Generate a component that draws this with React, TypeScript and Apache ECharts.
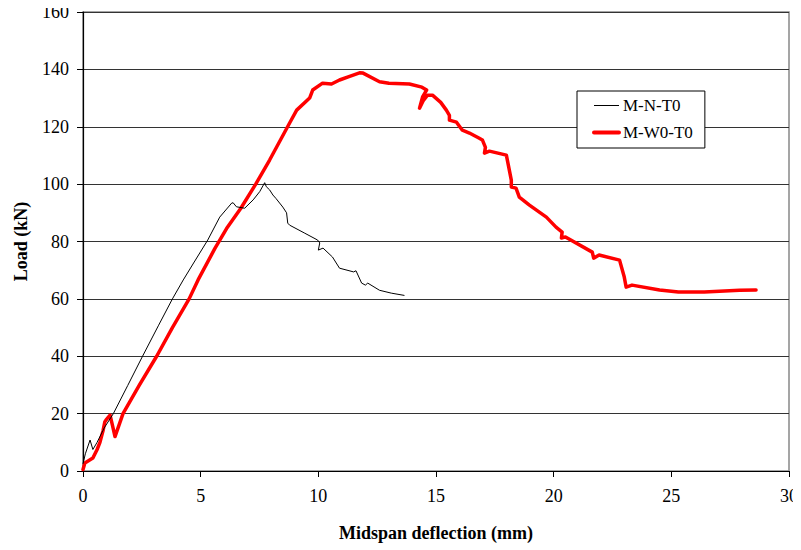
import React, { useEffect, useRef } from "react";
import * as echarts from "echarts";

// Load–deflection readings, [midspan deflection (mm), load (kN)]
const seriesNames = ["M-N-T0", "M-W0-T0"];

const mnt0: [number, number][] = [
  [0.0, 2.5], [0.1, 6], [0.3, 10.8], [0.42, 7.5], [0.6, 10], [0.9, 15], [1.29, 20],
  [1.9, 29.8], [2.53, 40], [3.2, 50.6], [3.8, 60], [4.26, 66.6], [4.7, 72.5],
  [5.3, 80.5], [5.81, 88.5], [6.32, 93.4], [6.38, 93.5], [6.52, 92.1], [6.87, 91.6],
  [7.23, 94.5], [7.51, 97.4], [7.72, 100.5], [7.79, 99.1], [7.93, 98], [8.07, 96.2], [8.2, 95],
  [8.49, 92], [8.65, 90], [8.7, 86.4], [8.78, 85.7], [9.4, 83], [9.97, 80.5], [10.06, 79.5],
  [10.0, 77], [10.2, 77.7], [10.6, 74.6], [10.9, 70.7], [11.5, 69.4], [11.6, 69.8],
  [11.84, 65.5], [12.0, 64.8], [12.1, 65.5], [12.6, 63], [13.1, 62], [13.66, 61.2],
];

const mw0t0: [number, number][] = [
  [0.0, 0.5], [0.08, 2.8], [0.42, 4.5], [0.6, 7.5], [0.72, 10], [0.85, 14], [0.93, 17.2],
  [1.0, 18], [1.15, 19.5], [1.25, 16], [1.36, 12], [1.7, 20], [2.4, 30], [3.13, 40],
  [3.8, 50], [4.51, 60], [4.89, 66.6], [5.6, 77.5], [6.1, 84.5], [6.7, 91.5], [7.34, 100],
  [7.93, 108.4], [8.78, 121.3], [9.08, 125.8],
  [9.63, 130], [9.76, 132.8], [10.18, 135.2], [10.56, 134.9], [10.9, 136.3], [11.3, 137.5],
  [11.75, 138.8], [11.9, 138.7], [12.6, 135.7], [13.0, 135.2], [13.87, 134.9], [14.4, 133.8],
  [14.6, 132.8], [14.43, 130.4], [14.3, 126.5], [14.45, 129], [14.64, 131], [14.85, 131],
  [15.2, 128.5], [15.44, 125.8], [15.57, 124], [15.57, 122.3], [15.87, 121.6], [16.12, 118.8],
  [16.42, 117.8], [16.84, 116], [16.97, 115.4], [17.1, 112.8], [17.06, 110.8], [17.27, 111.5],
  [17.99, 110.1], [18.2, 101.4], [18.2, 99], [18.4, 98.6], [18.54, 95.5], [18.97, 92.7],
  [19.69, 88.5], [20.1, 85], [20.36, 83.3], [20.33, 81.2], [20.5, 81.6], [21.64, 76.3],
  [21.7, 74.2], [21.93, 75.3], [22.8, 73.5], [23.0, 67.6], [23.08, 64.1], [23.33, 64.8],
  [24.5, 63.1], [25.3, 62.4], [26.4, 62.4], [27.9, 63], [28.6, 63.1],
];

const xTitle = "Midspan deflection (mm)";
const yTitle = "Load (kN)";

const FONT = "Liberation Serif";

export default function App() {
  const ref = useRef<HTMLDivElement>(null);

  useEffect(() => {
    if (!ref.current) return;
    const chart = echarts.init(ref.current, undefined, { renderer: "svg" });
    chart.setOption({
      animation: false,
      backgroundColor: "#ffffff",
      textStyle: { fontFamily: FONT },
      grid: {
        left: 83,
        right: 11,
        top: 12,
        bottom: 79,
        show: true,
        borderColor: "#888888",
        borderWidth: 1.5,
        backgroundColor: "#ffffff",
      },
      legend: {
        orient: "vertical",
        left: 577,
        top: 91,
        padding: [6, 12, 7, 15],
        itemGap: 10,
        itemWidth: 25,
        itemHeight: 14,
        backgroundColor: "#ffffff",
        borderColor: "#000000",
        borderWidth: 1,
        borderRadius: 0,
        itemStyle: { opacity: 0 },
        textStyle: { fontFamily: FONT, fontSize: 17, color: "#000000", padding: [0, 0, 0, -1] },
        data: [
          { name: seriesNames[0], lineStyle: { color: "#000000", width: 1 } },
          { name: seriesNames[1], lineStyle: { color: "#ff0000", width: 4 } },
        ],
      },
      xAxis: {
        type: "value",
        min: 0,
        max: 30,
        interval: 5,
        name: xTitle,
        nameLocation: "middle",
        nameGap: 53,
        nameTextStyle: { fontFamily: FONT, fontSize: 18, fontWeight: "bold", color: "#000000" },
        axisLine: { show: true, onZero: false, lineStyle: { color: "#000000", width: 1.2 } },
        axisTick: { show: true, inside: false, length: 6, lineStyle: { color: "#000000" } },
        axisLabel: { fontFamily: FONT, fontSize: 18, color: "#000000", margin: 16 },
        splitLine: { show: false },
      },
      yAxis: {
        type: "value",
        min: 0,
        max: 160,
        interval: 20,
        name: yTitle,
        nameLocation: "middle",
        nameGap: 53,
        nameRotate: 90,
        nameTextStyle: { fontFamily: FONT, fontSize: 18, fontWeight: "bold", color: "#000000" },
        axisLine: { show: true, lineStyle: { color: "#000000", width: 1.2 } },
        axisTick: { show: true, inside: false, length: 6, lineStyle: { color: "#000000" } },
        axisLabel: { fontFamily: FONT, fontSize: 18, color: "#000000", margin: 14 },
        splitLine: { show: true, lineStyle: { color: "#333333", width: 1 } },
      },
      series: [
        {
          name: seriesNames[0],
          type: "line",
          data: mnt0,
          symbol: "none",
          showSymbol: false,
          lineStyle: { color: "#000000", width: 1 },
          itemStyle: { color: "#000000" },
          z: 3,
        },
        {
          name: seriesNames[1],
          type: "line",
          data: mw0t0,
          symbol: "none",
          showSymbol: false,
          lineStyle: { color: "#ff0000", width: 3.5, join: "round", cap: "round" },
          itemStyle: { color: "#ff0000" },
          z: 2,
        },
      ],
    });
    return () => chart.dispose();
  }, []);

  return <div ref={ref} style={{ width: 801, height: 550, marginLeft: -8, marginTop: -8 }} />;
}
